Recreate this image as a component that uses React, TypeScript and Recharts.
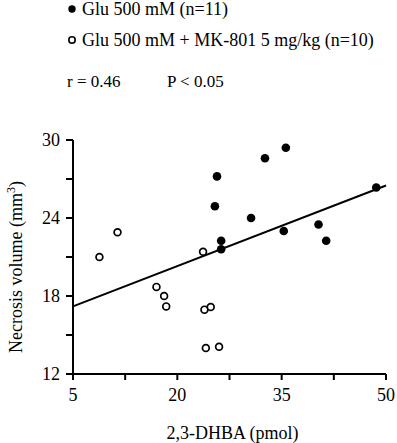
import React from 'react';
import { ScatterChart, Scatter, XAxis, YAxis, ReferenceLine } from 'recharts';

const gluX = [25.7, 25.4, 32.6, 35.6, 30.6, 35.3, 40.3, 41.4, 26.3, 26.3, 48.6];
const gluY = [27.2, 24.9, 28.6, 29.4, 24.0, 23.0, 23.5, 22.25, 22.25, 21.6, 26.35];
const mkX = [8.8, 11.4, 17.0, 18.1, 18.4, 23.7, 23.9, 24.8, 24.1, 26.0];
const mkY = [21.0, 22.9, 18.7, 18.0, 17.2, 21.4, 16.95, 17.15, 14.0, 14.1];
const fitX = [5, 50];
const fitY = [17.2, 26.5];
const xTicks = [5, 12.5, 20, 27.5, 35, 42.5, 50];
const xLabeled = [5, 20, 35, 50];
const yTicks = [12, 15, 18, 21, 24, 27, 30];
const yLabeled = [12, 18, 24, 30];
const legendGlu = 'Glu 500 mM (n=11)';
const legendMk = 'Glu 500 mM + MK-801 5 mg/kg (n=10)';
const statR = 'r = 0.46';
const statP = 'P < 0.05';

const gluData = gluX.map((x, i) => ({ x, y: gluY[i] }));
const mkData = mkX.map((x, i) => ({ x, y: mkY[i] }));
const FONT = '"Liberation Serif", "Times New Roman", serif';

const Filled = (p: any) => <circle cx={p.cx} cy={p.cy} r={4.3} fill="#000" />;
const Open = (p: any) => <circle cx={p.cx} cy={p.cy} r={3.4} fill="#fff" stroke="#000" strokeWidth={1.7} />;

const YLabel = () => (
  <text x={22} y={267} transform="rotate(-90, 22, 267)" textAnchor="middle" fontFamily={FONT} fontSize={18} fill="#000">
    Necrosis volume (mm<tspan dy={-7} fontSize={12}>3</tspan><tspan dy={7}>)</tspan>
  </text>
);

const XLabel = (props: any) => {
  const vb = props.viewBox || {};
  return (
    <text x={vb.x + vb.width / 2 + 3} y={439} textAnchor="middle" fontFamily={FONT} fontSize={18} fill="#000">
      2,3-DHBA (pmol)
    </text>
  );
};

export default function App() {
  return (
    <div style={{ position: 'absolute', left: 0, top: 0, width: 397, height: 443, background: '#fff' }}>
      <ScatterChart width={397} height={443} margin={{ top: 140, right: 11, left: 0, bottom: 0 }}>
        <XAxis
          type="number"
          dataKey="x"
          domain={[5, 50]}
          ticks={xTicks}
          interval={0}
          allowDataOverflow
          height={69}
          tickSize={6}
          tickMargin={8}
          tickFormatter={(v: number) => (xLabeled.includes(v) ? String(v) : '')}
          tick={{ fill: '#000', fontSize: 18, fontFamily: FONT }}
          axisLine={{ stroke: '#000', strokeWidth: 2 }}
          tickLine={{ stroke: '#000', strokeWidth: 2 }}
          label={<XLabel />}
        />
        <YAxis
          type="number"
          dataKey="y"
          domain={[12, 30]}
          ticks={yTicks}
          interval={0}
          allowDataOverflow
          width={73}
          tickSize={7}
          tickMargin={6}
          tickFormatter={(v: number) => (yLabeled.includes(v) ? String(v) : '')}
          tick={{ fill: '#000', fontSize: 18, fontFamily: FONT }}
          axisLine={{ stroke: '#000', strokeWidth: 2 }}
          tickLine={{ stroke: '#000', strokeWidth: 2 }}
          label={<YLabel />}
        />
        <ReferenceLine
          segment={[{ x: fitX[0], y: fitY[0] }, { x: fitX[1], y: fitY[1] }]}
          stroke="#000"
          strokeWidth={2}
          ifOverflow="visible"
        />
        <Scatter data={mkData} shape={Open} isAnimationActive={false} />
        <Scatter data={gluData} shape={Filled} isAnimationActive={false} />
      </ScatterChart>
      <svg width={397} height={100} style={{ position: 'absolute', left: 0, top: 0 }}>
        <circle cx={72} cy={9} r={3.7} fill="#000" />
        <text x={82} y={15} fontFamily={FONT} fontSize={18} fill="#000">{legendGlu}</text>
        <circle cx={72} cy={40} r={3.2} fill="#fff" stroke="#000" strokeWidth={1.6} />
        <text x={82} y={46} fontFamily={FONT} fontSize={18} fill="#000">{legendMk}</text>
        <text x={67} y={87} fontFamily={FONT} fontSize={17} fill="#000">{statR}</text>
        <text x={167} y={87} fontFamily={FONT} fontSize={17} fill="#000">{statP}</text>
      </svg>
    </div>
  );
}
